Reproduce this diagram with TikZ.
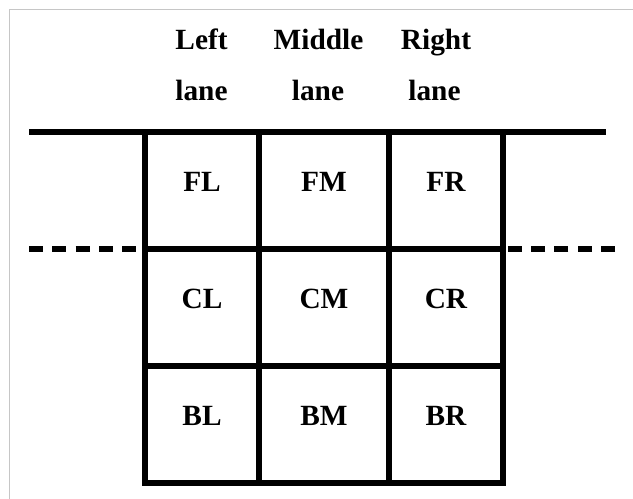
\documentclass[tikz,border=0pt]{standalone}
\usepackage{fontspec}
\setmainfont{Liberation Serif}
\begin{document}
\begin{tikzpicture}[x=0.75pt,y=-0.75pt,
  wall/.style={line width=4.1pt,draw=black,line cap=rect,line join=miter},
  lanedash/.style={line width=4.1pt,draw=black,dash pattern=on 10.5pt off 7pt},
  head/.style={font=\fontsize{22pt}{26pt}\selectfont\bfseries,anchor=base},
  cell/.style={font=\fontsize{22pt}{26pt}\selectfont\bfseries,anchor=base}]
\useasboundingbox (0,0) rectangle (633,499);
\draw[gray!45,line width=1.1pt] (9.5,9.5) rectangle (700,560);
% header
\node[head] (hl1) at (201.5,50) {Left};
\node[head] (hl2) at (201.5,101) {lane};
\node[head] (hm1) at (318.5,50) {Middle};
\node[head] (hm2) at (318,101) {lane};
\node[head] (hr1) at (436,50) {Right};
\node[head] (hr2) at (434.5,101) {lane};
% grid coordinates
\coordinate (tl) at (29,132);
\coordinate (tr) at (606,132);
\coordinate (dl) at (29,249);
\coordinate (dr) at (615,249);
% grid lines
\draw[wall,line cap=butt] (tl) -- (tr);
\draw[wall] (145,132) -- (145,483) -- (503,483) -- (503,132);
\foreach \x in {259,389}{\draw[wall] (\x,132) -- (\x,483);}
\foreach \y in {249,366}{\draw[wall] (145,\y) -- (503,\y);}
\draw[lanedash] (dl) -- (145,249);
\draw[lanedash] (dr) -- (503,249);
% cell labels
\node[cell] (FL) at (202,192) {FL};
\node[cell] (FM) at (324,192) {FM};
\node[cell] (FR) at (446,192) {FR};
\node[cell] (CL) at (202,309) {CL};
\node[cell] (CM) at (324,309) {CM};
\node[cell] (CR) at (446,309) {CR};
\node[cell] (BL) at (202,426) {BL};
\node[cell] (BM) at (324,426) {BM};
\node[cell] (BR) at (446,426) {BR};
\end{tikzpicture}
\end{document}
